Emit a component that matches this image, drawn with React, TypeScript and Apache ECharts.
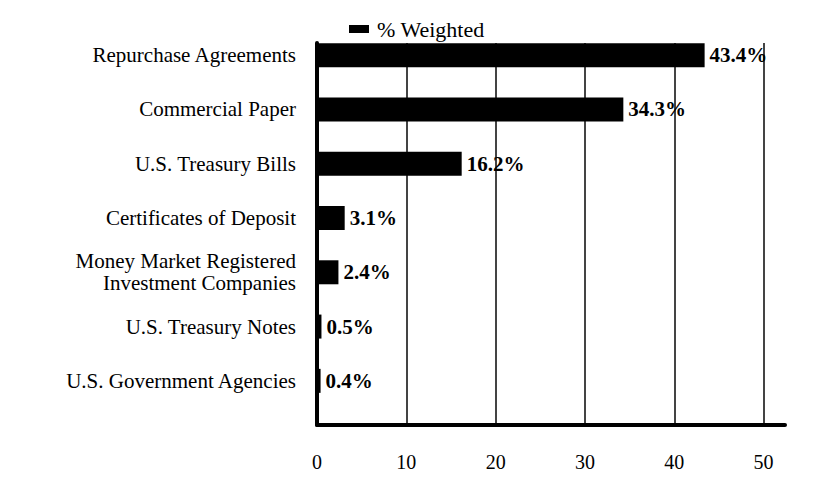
import React, { useEffect, useRef } from "react";
import * as echarts from "echarts";

const categories = [
  "Repurchase Agreements",
  "Commercial Paper",
  "U.S. Treasury Bills",
  "Certificates of Deposit",
  "Money Market Registered\nInvestment Companies",
  "U.S. Treasury Notes",
  "U.S. Government Agencies",
];
const weighted = [43.4, 34.3, 16.2, 3.1, 2.4, 0.5, 0.4];
const seriesName = "% Weighted";
const xMin = 0;
const xMax = 52.4;
const xInterval = 10;

const FONT = "'Liberation Serif', 'Times New Roman', serif";

export default function App() {
  const ref = useRef<HTMLDivElement>(null);
  useEffect(() => {
    if (!ref.current) return;
    const chart = echarts.init(ref.current, undefined, { renderer: "svg" });
    chart.setOption({
      animation: false,
      textStyle: { fontFamily: FONT, color: "#000" },
      legend: {
        data: [{ name: seriesName, icon: "rect" }],
        left: 336,
        top: 5,
        itemWidth: 20,
        itemHeight: 8,
        itemGap: 8,
        textStyle: { fontFamily: FONT, fontSize: 22, color: "#000", padding: [0, 0, 0, 3] },
      },
      grid: [
        { left: 309, right: 63, top: 20, bottom: 92, containLabel: false },
        { left: 309, right: 63, top: 35, bottom: 75, containLabel: false },
      ],
      xAxis: [
        {
          gridIndex: 0,
          type: "value",
          min: xMin,
          max: xMax,
          interval: xInterval,
          show: false,
        },
        {
          gridIndex: 1,
          type: "value",
          min: xMin,
          max: xMax,
          interval: xInterval,
          axisLine: { show: true, onZero: false, lineStyle: { color: "#000", width: 4 } },
          axisTick: { show: false },
          axisLabel: {
            fontFamily: FONT,
            fontSize: 20,
            color: "#000",
            margin: 27,
            showMaxLabel: false,
            formatter: (v: number) => (v % xInterval === 0 ? String(v) : ""),
          },
          splitLine: {
            show: true,
            showMinLine: false,
            showMaxLine: false,
            lineStyle: { color: "#444", width: 2 },
          },
        },
      ],
      yAxis: [
        {
          gridIndex: 0,
          type: "category",
          data: categories,
          inverse: true,
          axisLine: { show: false },
          axisTick: { show: false },
          axisLabel: {
            fontFamily: FONT,
            fontSize: 21,
            color: "#000",
            margin: 21,
            lineHeight: 22,
            align: "right",
          },
        },
        {
          gridIndex: 1,
          type: "value",
          min: 0,
          max: 1,
          axisLine: { show: true, onZero: false, lineStyle: { color: "#000", width: 4 } },
          axisTick: { show: false },
          axisLabel: { show: false },
          splitLine: { show: false },
        },
      ],
      series: [
        {
          name: seriesName,
          type: "bar",
          xAxisIndex: 0,
          yAxisIndex: 0,
          data: weighted,
          barWidth: 24,
          itemStyle: { color: "#000" },
          label: {
            show: true,
            position: "right",
            distance: 5,
            fontFamily: FONT,
            fontSize: 21,
            fontWeight: "bold",
            color: "#000",
            formatter: (p: any) => `${p.value.toFixed(1)}%`,
          },
        },
      ],
    });
    return () => chart.dispose();
  }, []);
  return <div ref={ref} style={{ width: 840, height: 492 }} />;
}
